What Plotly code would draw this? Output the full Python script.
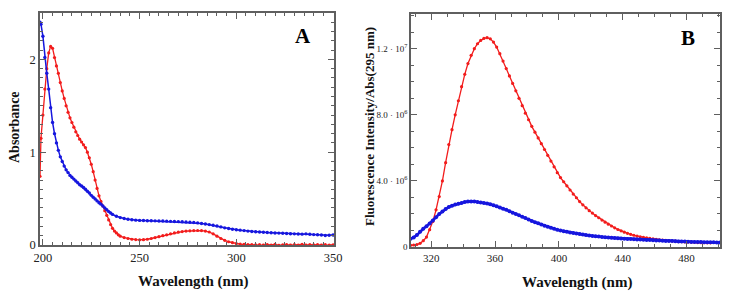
import plotly.graph_objects as go

# ---------- Panel A: absorbance ----------
a_red_x = [198.5, 199, 200, 201, 202, 203, 204, 205, 206, 207, 208, 209, 210, 211, 212, 213, 214, 215,
           216, 217, 218, 219, 220, 221, 222, 223, 224, 225, 226, 227, 228, 229, 230, 231, 232, 233,
           234, 235, 236, 237, 238, 239, 240, 242, 244, 246, 248, 250, 252, 254, 256, 258, 260, 262,
           264, 266, 268, 270, 272, 274, 276, 278, 280, 282, 284, 286, 288, 290, 292, 294, 296, 298,
           300, 302, 304, 306, 308, 310, 312, 314, 316, 318, 320, 322, 324, 326, 328, 330, 332, 334,
           336, 338, 340, 342, 344, 346, 348, 350]
a_red_y = [0.74, 1.15, 1.40, 1.68, 1.90, 2.07, 2.14, 2.12, 2.02, 1.93, 1.85, 1.75, 1.66, 1.58, 1.50,
           1.43, 1.37, 1.32, 1.27, 1.22, 1.18, 1.14, 1.11, 1.08, 1.05, 1.00, 0.94, 0.87, 0.79, 0.70,
           0.61, 0.53, 0.47, 0.42, 0.37, 0.32, 0.27, 0.22, 0.18, 0.15, 0.13, 0.11, 0.095, 0.08, 0.07,
           0.062, 0.058, 0.056, 0.057, 0.062, 0.07, 0.08, 0.09, 0.10, 0.11, 0.12, 0.13, 0.138, 0.145,
           0.15, 0.153, 0.155, 0.156, 0.155, 0.15, 0.14, 0.12, 0.095, 0.07, 0.05, 0.035, 0.025, 0.016,
           0.01, 0.006, 0.004, 0.003, 0.002, 0.004, -0.002, 0.003, 0.0, 0.006, -0.003, 0.002, 0.005,
           -0.002, 0.003, 0.0, 0.006, -0.002, 0.004, 0.001, 0.005, -0.002, 0.003, 0.0, 0.002]

a_blue_x = [198.5, 199, 200, 201, 202, 203, 204, 205, 206, 207, 208, 209, 210, 211, 212, 213, 214, 215,
            216, 217, 218, 219, 220, 221, 222, 223, 224, 225, 226, 227, 228, 229, 230, 231, 232, 233,
            234, 235, 236, 238, 240, 242, 244, 246, 248, 250, 252, 254, 256, 258, 260, 262, 264, 266,
            268, 270, 272, 274, 276, 278, 280, 282, 284, 286, 288, 290, 292, 294, 296, 298, 300, 302,
            304, 306, 308, 310, 312, 314, 316, 318, 320, 322, 324, 326, 328, 330, 332, 334, 336, 338,
            340, 342, 344, 346, 348, 350]
a_blue_y = [2.40, 2.38, 2.25, 2.02, 1.85, 1.68, 1.48, 1.32, 1.20, 1.10, 1.02, 0.95, 0.90, 0.85, 0.81,
            0.78, 0.75, 0.73, 0.71, 0.69, 0.67, 0.65, 0.635, 0.62, 0.60, 0.58, 0.56, 0.535, 0.515,
            0.495, 0.475, 0.455, 0.44, 0.42, 0.40, 0.38, 0.36, 0.345, 0.33, 0.31, 0.295, 0.285, 0.278,
            0.272, 0.268, 0.265, 0.264, 0.262, 0.262, 0.26, 0.259, 0.258, 0.257, 0.255, 0.254, 0.252,
            0.25, 0.248, 0.245, 0.242, 0.238, 0.232, 0.226, 0.22, 0.213, 0.205, 0.195, 0.185, 0.177,
            0.17, 0.165, 0.16, 0.155, 0.15, 0.146, 0.143, 0.14, 0.137, 0.134, 0.132, 0.13, 0.128,
            0.126, 0.124, 0.122, 0.12, 0.119, 0.117, 0.12, 0.116, 0.112, 0.11, 0.108, 0.103, 0.105,
            0.108]

# ---------- Panel B: fluorescence (units of 1e6) ----------
b_red_x = list(range(307, 497, 2))
b_red_y = [0.10, 0.12, 0.15, 0.22, 0.38, 0.60, 1.05, 1.55, 2.25, 3.05, 4.0, 5.1, 6.2, 7.1, 8.0, 8.85,
           9.7, 10.45, 11.1, 11.6, 12.0, 12.3, 12.5, 12.62, 12.67, 12.6, 12.4, 12.1, 11.7, 11.25, 10.8,
           10.35, 9.9, 9.45, 9.0, 8.55, 8.1, 7.7, 7.3, 6.95, 6.6, 6.25, 5.9, 5.55, 5.2, 4.85, 4.5, 4.2,
           3.95, 3.7, 3.45, 3.2, 2.98, 2.75, 2.55, 2.37, 2.2, 2.05, 1.9, 1.77, 1.63, 1.5, 1.38, 1.27,
           1.16, 1.06, 0.98, 0.9, 0.83, 0.77, 0.71, 0.66, 0.62, 0.58, 0.55, 0.52, 0.49, 0.46, 0.44,
           0.42, 0.40, 0.38, 0.36, 0.35, 0.33, 0.32, 0.31, 0.30, 0.29, 0.28, 0.27, 0.26, 0.26, 0.25,
           0.25]
b_blue_x = list(range(307, 503, 2))
b_blue_y = [0.50, 0.58, 0.72, 0.92, 1.1, 1.25, 1.42, 1.6, 1.8, 2.0, 2.15, 2.3, 2.42, 2.5, 2.57, 2.62,
            2.67, 2.72, 2.75, 2.76, 2.75, 2.73, 2.7, 2.67, 2.63, 2.58, 2.52, 2.46, 2.39, 2.32, 2.25,
            2.17, 2.08, 2.0, 1.92, 1.83, 1.75, 1.67, 1.58, 1.5, 1.43, 1.36, 1.29, 1.22, 1.16, 1.1, 1.05,
            1.0, 0.96, 0.92, 0.88, 0.84, 0.81, 0.78, 0.75, 0.72, 0.7, 0.67, 0.65, 0.63, 0.61, 0.59,
            0.57, 0.56, 0.54, 0.53, 0.51, 0.5, 0.49, 0.48, 0.47, 0.46, 0.45, 0.44, 0.43, 0.42, 0.41,
            0.4, 0.39, 0.38, 0.37, 0.37, 0.36, 0.35, 0.34, 0.33, 0.33, 0.32, 0.31, 0.31, 0.3, 0.3, 0.29,
            0.29, 0.28, 0.28, 0.27, 0.27]

a_xticks = [200, 250, 300, 350]
a_yticks = [0, 1, 2]
a_yticktext = ["0", "1", "2"]
b_xticks = [320, 360, 400, 440, 480]
b_yticks = [0, 4e6, 8e6, 12e6]
b_yticktext = ["0", "4.0 · 10<sup>6</sup>", "8.0 · 10<sup>6</sup>", "1.2 · 10<sup>7</sup>"]

RED = "rgb(242,28,28)"
BLUE = "rgb(22,22,222)"
AX = "rgb(95,95,95)"
SERIF = "Liberation Serif, Times New Roman, serif"
W, H = 729, 295


def px_x(p):
    return p / W


def px_y(p):
    return 1 - p / H


fig = go.Figure()
fig.add_trace(go.Scatter(x=a_red_x, y=a_red_y, mode="lines+markers", xaxis="x", yaxis="y",
                         line=dict(color=RED, width=1.3), marker=dict(color=RED, size=3.2)))
fig.add_trace(go.Scatter(x=a_blue_x, y=a_blue_y, mode="lines+markers", xaxis="x", yaxis="y",
                         line=dict(color=BLUE, width=1.5), marker=dict(color=BLUE, size=3.4)))
fig.add_trace(go.Scatter(x=b_red_x, y=[v * 1e6 for v in b_red_y], mode="lines+markers", xaxis="x2", yaxis="y2",
                         line=dict(color=RED, width=1.3), marker=dict(color=RED, size=3.2)))
fig.add_trace(go.Scatter(x=b_blue_x, y=[v * 1e6 for v in b_blue_y], mode="lines+markers", xaxis="x2", yaxis="y2",
                         line=dict(color=BLUE, width=2.6), marker=dict(color=BLUE, size=4)))

common = dict(showline=True, linecolor=AX, linewidth=1.5, mirror="ticks", ticks="inside",
              tickcolor=AX, tickwidth=1.2, ticklen=6, showgrid=False, zeroline=False,
              automargin=False, tickfont=dict(family=SERIF, size=12.5, color="#222"))
minor_style = dict(ticks="inside", ticklen=3.5, tickcolor=AX, tickwidth=1, showgrid=False)

fig.update_layout(
    width=W, height=H,
    margin=dict(l=0, r=0, t=0, b=0, autoexpand=False),
    paper_bgcolor="white", plot_bgcolor="white",
    showlegend=False,
    xaxis=dict(domain=[px_x(40), px_x(334)], range=[198.5, 350.5], tickvals=a_xticks,
               minor=dict(dtick=5, tick0=200, **minor_style), anchor="y", **common),
    yaxis=dict(domain=[px_y(245), px_y(13)], range=[0, 2.5], tickvals=a_yticks, ticktext=a_yticktext,
               minor=dict(dtick=0.1, tick0=0, **minor_style), anchor="x", **common),
    xaxis2=dict(domain=[px_x(411), px_x(720)], range=[307.3, 501], tickvals=b_xticks,
                minor=dict(dtick=10, tick0=300, **minor_style),
                anchor="y2", **{**common, "tickfont": dict(family=SERIF, size=11, color="#222")}),
    yaxis2=dict(domain=[px_y(247), px_y(14)], range=[0, 1.41e7], tickvals=b_yticks, ticktext=b_yticktext,
                minor=dict(dtick=1e6, tick0=0, **minor_style),
                anchor="x2", **{**common, "tickfont": dict(family=SERIF, size=9, color="#222")}),
    annotations=[
        dict(text="<b>A</b>", x=px_x(303), y=px_y(36), xref="paper", yref="paper", showarrow=False,
             font=dict(family=SERIF, size=21, color="black"), xanchor="center", yanchor="middle"),
        dict(text="<b>B</b>", x=px_x(688), y=px_y(38), xref="paper", yref="paper", showarrow=False,
             font=dict(family=SERIF, size=21, color="black"), xanchor="center", yanchor="middle"),
        dict(text="<b>Absorbance</b>", x=px_x(14), y=px_y(127), xref="paper", yref="paper",
             showarrow=False, textangle=-90, font=dict(family=SERIF, size=14, color="#111"),
             xanchor="center", yanchor="middle"),
        dict(text="<b>Fluorescence Intensity/Abs(295 nm)</b>", x=px_x(369), y=px_y(127),
             xref="paper", yref="paper", showarrow=False, textangle=-90,
             font=dict(family=SERIF, size=13, color="#111"), xanchor="center", yanchor="middle"),
        dict(text="<b>Wavelength (nm)</b>", x=px_x(193), y=px_y(281), xref="paper", yref="paper",
             showarrow=False, font=dict(family=SERIF, size=15, color="#111"),
             xanchor="center", yanchor="middle"),
        dict(text="<b>Wavelength (nm)</b>", x=px_x(577), y=px_y(282), xref="paper", yref="paper",
             showarrow=False, font=dict(family=SERIF, size=15, color="#111"),
             xanchor="center", yanchor="middle"),
    ],
)

fig.write_html("out.html", config={"displayModeBar": False},
               post_script="document.body.style.margin='0px';document.body.style.overflow='hidden';")
